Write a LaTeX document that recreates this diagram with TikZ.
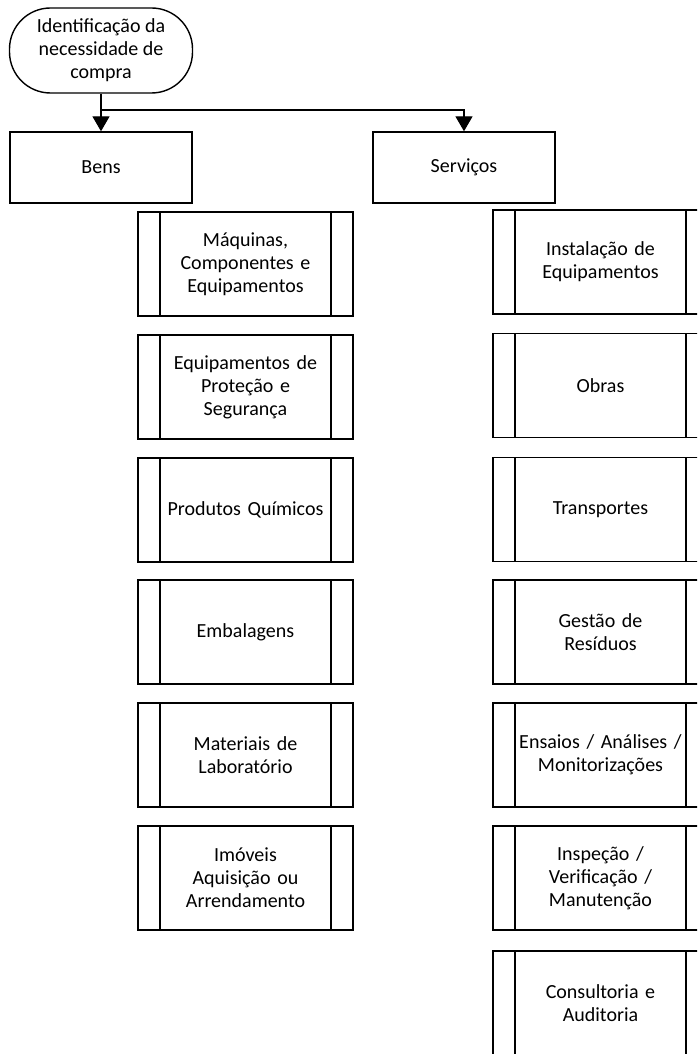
\documentclass[tikz,border=0pt]{standalone}
\usepackage{fontspec}
\setmainfont{Carlito}
\usetikzlibrary{arrows.meta}
\usetikzlibrary{positioning}

\begin{document}
\begin{tikzpicture}[x=1pt, y=-1pt,
			every node/.style={draw, line width=1.4pt, align=center, font=\fontsize{20}{23}\selectfont},
			edge/.style={line width=1.4pt},
			arrow/.style={edge, -{Triangle[width=17pt,length=15pt]}},
			term/.style={rounded corners=41pt, minimum width=183pt, minimum height=85pt, inner sep=0pt},
			cat/.style={minimum width=182pt, minimum height=71pt, inner sep=0pt},
			proc/.style={minimum width=215pt, minimum height=104pt, inner sep=0pt, text width=170pt,
				path picture={
					\draw[line width=1.4pt] ([xshift=22pt]path picture bounding box.north west) -- ([xshift=22pt]path picture bounding box.south west);
					\draw[line width=1.4pt] ([xshift=-22pt]path picture bounding box.north east) -- ([xshift=-22pt]path picture bounding box.south east);
				}}
		]
		\useasboundingbox (0,0) rectangle (697,1054);
		\clip (0,0) rectangle (697,1054);

		\node[term] (start) at (101,50.5) {Identificação da\\necessidade de\\compra};
		\node[cat] (bens) at (101,167.5) {Bens};
		\node[cat] (serv) at (464,167.5) {Serviços};
		\coordinate (split) at (101,110);

		% bens
		\node[proc] (maq) at (245.5,264) {Máquinas,\\Componentes e\\Equipamentos};
		\node[proc] (epi) at (245.5,387) {Equipamentos de\\Proteção e\\Segurança};
		\node[proc] (quim) at (245.5,510) {Produtos Químicos};
		\node[proc] (emb) at (245.5,632) {Embalagens};
		\node[proc] (lab) at (245.5,755) {Materiais de\\Laboratório};
		\node[proc] (imov) at (245.5,878) {Imóveis\\Aquisição ou\\Arrendamento};

		% servicos
		\node[proc] (inst) at (600.5,262) {Instalação de\\Equipamentos};
		\node[proc] (obras) at (600.5,385.5) {Obras};
		\node[proc] (transp) at (600.5,509.5) {Transportes};
		\node[proc] (resid) at (600.5,632) {Gestão de\\Resíduos};
		\node[proc] (ensaios) at (600.5,755) {Ensaios / Análises /\\Monitorizações};
		\node[proc] (insp) at (600.5,878) {Inspeção /\\Verificação /\\Manutenção};
		\node[proc] (consult) at (600.5,1003) {Consultoria e\\Auditoria};

		\draw[edge] (start.south) -- (split);
		\draw[arrow] (split) -- (bens.north);
		\draw[arrow] (split) -| (serv.north);
	\end{tikzpicture}
\end{document}
